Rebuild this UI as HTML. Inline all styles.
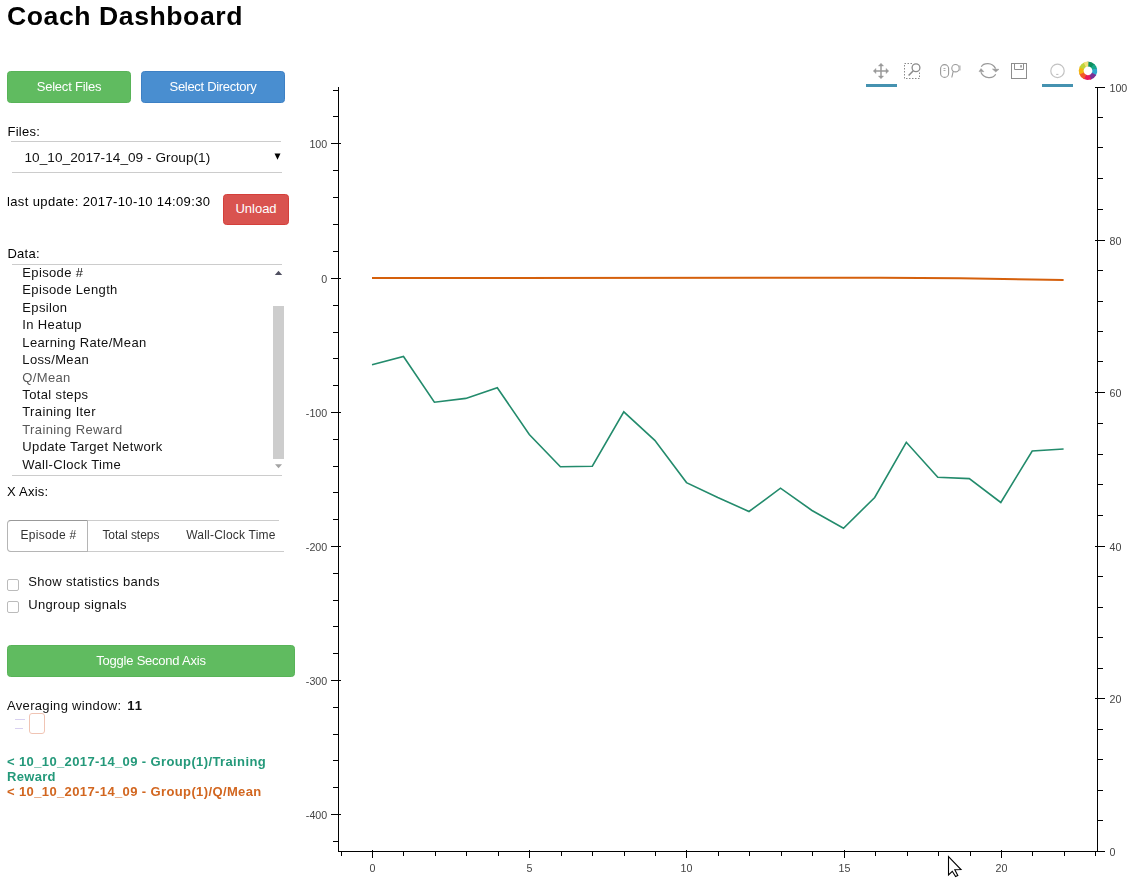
<!DOCTYPE html><html><head><meta charset="utf-8"><style>
html,body{margin:0;padding:0;background:#fff;width:1142px;height:881px;overflow:hidden;font-family:"Liberation Sans", sans-serif;}
#root{position:absolute;left:0;top:0;width:1142px;height:881px;opacity:0.999;}
.btn{position:absolute;border-radius:3.5px;color:#fff;font-size:12px;text-align:center;box-sizing:border-box;}
</style></head><body><div id="root">
<div style="position:absolute;left:7.0px;top:0.98px;font-size:26.6px;line-height:30px;color:#000;font-weight:bold;letter-spacing:0.56px;white-space:nowrap;">Coach Dashboard</div>
<div class="btn" style="left:7px;top:71px;width:124px;height:32px;background:#60bb60;border:1px solid #58b358;"></div><div style="position:absolute;left:7px;top:78.60px;font-size:13px;line-height:15px;color:#fff;font-weight:normal;letter-spacing:-0.22px;white-space:nowrap;width:124px;text-align:center;">Select Files</div>
<div class="btn" style="left:141px;top:71px;width:144px;height:32px;background:#498ed0;border:1px solid #3d80c4;"></div><div style="position:absolute;left:141px;top:78.60px;font-size:13px;line-height:15px;color:#fff;font-weight:normal;letter-spacing:-0.3px;white-space:nowrap;width:144px;text-align:center;">Select Directory</div>
<div style="position:absolute;left:7.4px;top:123.80px;font-size:13px;line-height:15px;color:#000;font-weight:normal;letter-spacing:0.3px;white-space:nowrap;">Files:</div>
<div style="position:absolute;left:11px;top:141px;width:270px;height:1px;background:#ccc"></div>
<div style="position:absolute;left:12px;top:172px;width:270px;height:1px;background:#ccc"></div>
<div style="position:absolute;left:24.5px;top:149.79px;font-size:13.6px;line-height:16px;color:#111;font-weight:normal;letter-spacing:0.05px;white-space:nowrap;">10_10_2017-14_09 - Group(1)</div>
<svg style="position:absolute;left:0;top:0" width="300" height="200"><path d="M274.5 153.5 L280.5 153.5 L277.5 159.8 Z" fill="#000"/></svg>
<div style="position:absolute;left:7px;top:194.00px;font-size:13px;line-height:15px;color:#000;font-weight:normal;letter-spacing:0.37px;white-space:nowrap;">last update: 2017-10-10 14:09:30</div>
<div class="btn" style="left:223px;top:194px;width:66px;height:31px;background:#d9534f;border:1px solid #d43f3a;"></div><div style="position:absolute;left:223px;top:200.80px;font-size:13px;line-height:15px;color:#fff;font-weight:normal;letter-spacing:0px;white-space:nowrap;width:66px;text-align:center;">Unload</div>
<div style="position:absolute;left:7.4px;top:245.70px;font-size:13px;line-height:15px;color:#000;font-weight:normal;letter-spacing:0.3px;white-space:nowrap;">Data:</div>
<div style="position:absolute;left:12px;top:264px;width:270px;height:1px;background:#ccc"></div>
<div style="position:absolute;left:12px;top:475px;width:270px;height:1px;background:#ccc"></div>
<div style="position:absolute;left:22.3px;top:263.80px;font-size:13px;line-height:17px;color:#111;font-weight:normal;letter-spacing:0.36px;white-space:nowrap;">Episode #</div>
<div style="position:absolute;left:22.3px;top:281.26px;font-size:13px;line-height:17px;color:#111;font-weight:normal;letter-spacing:0.36px;white-space:nowrap;">Episode Length</div>
<div style="position:absolute;left:22.3px;top:298.72px;font-size:13px;line-height:17px;color:#111;font-weight:normal;letter-spacing:0.36px;white-space:nowrap;">Epsilon</div>
<div style="position:absolute;left:22.3px;top:316.18px;font-size:13px;line-height:17px;color:#111;font-weight:normal;letter-spacing:0.36px;white-space:nowrap;">In Heatup</div>
<div style="position:absolute;left:22.3px;top:333.64px;font-size:13px;line-height:17px;color:#111;font-weight:normal;letter-spacing:0.36px;white-space:nowrap;">Learning Rate/Mean</div>
<div style="position:absolute;left:22.3px;top:351.10px;font-size:13px;line-height:17px;color:#111;font-weight:normal;letter-spacing:0.36px;white-space:nowrap;">Loss/Mean</div>
<div style="position:absolute;left:22.3px;top:368.56px;font-size:13px;line-height:17px;color:#585858;font-weight:normal;letter-spacing:0.36px;white-space:nowrap;">Q/Mean</div>
<div style="position:absolute;left:22.3px;top:386.02px;font-size:13px;line-height:17px;color:#111;font-weight:normal;letter-spacing:0.36px;white-space:nowrap;">Total steps</div>
<div style="position:absolute;left:22.3px;top:403.48px;font-size:13px;line-height:17px;color:#111;font-weight:normal;letter-spacing:0.36px;white-space:nowrap;">Training Iter</div>
<div style="position:absolute;left:22.3px;top:420.94px;font-size:13px;line-height:17px;color:#585858;font-weight:normal;letter-spacing:0.36px;white-space:nowrap;">Training Reward</div>
<div style="position:absolute;left:22.3px;top:438.40px;font-size:13px;line-height:17px;color:#111;font-weight:normal;letter-spacing:0.36px;white-space:nowrap;">Update Target Network</div>
<div style="position:absolute;left:22.3px;top:455.86px;font-size:13px;line-height:17px;color:#111;font-weight:normal;letter-spacing:0.36px;white-space:nowrap;">Wall-Clock Time</div>
<div style="position:absolute;left:273px;top:306px;width:11px;height:153px;background:#cdcdcd"></div>
<svg style="position:absolute;left:0;top:0" width="300" height="480"><path d="M274.8 275 L282.2 275 L278.5 270.8 Z" fill="#505060"/><path d="M275 464.2 L282 464.2 L278.5 468.3 Z" fill="#a3a3a3"/></svg>
<div style="position:absolute;left:7px;top:484.00px;font-size:13px;line-height:15px;color:#000;font-weight:normal;letter-spacing:0.25px;white-space:nowrap;">X Axis:</div>
<div style="position:absolute;left:7px;top:520px;width:277px;height:32px;overflow:hidden;">
<div style="position:absolute;left:0;top:0;width:330px;height:30px;border:1px solid #ccc;border-radius:4px;box-sizing:content-box"></div>
<div style="position:absolute;left:0;top:0;width:79px;height:30px;border:1px solid #b5b5b5;border-top-color:#999;border-radius:4px 0 0 4px;background:#fff;"></div>
<div style="position:absolute;left:272px;top:0;width:10px;height:1px;background:#fff"></div>
</div>
<div style="position:absolute;left:20.4px;top:528.44px;font-size:12px;line-height:14px;color:#333;font-weight:normal;letter-spacing:0.3px;white-space:nowrap;">Episode #</div>
<div style="position:absolute;left:102.4px;top:528.44px;font-size:12px;line-height:14px;color:#333;font-weight:normal;letter-spacing:-0.03px;white-space:nowrap;">Total steps</div>
<div style="position:absolute;left:186.2px;top:528.44px;font-size:12px;line-height:14px;color:#333;font-weight:normal;letter-spacing:0.22px;white-space:nowrap;">Wall-Clock Time</div>
<div style="position:absolute;left:7px;top:579px;width:12px;height:12px;box-sizing:border-box;border:1px solid #bbb;border-radius:2px;background:#fff"></div>
<div style="position:absolute;left:7px;top:601px;width:12px;height:12px;box-sizing:border-box;border:1px solid #bbb;border-radius:2px;background:#fff"></div>
<div style="position:absolute;left:28.2px;top:573.90px;font-size:13px;line-height:15px;color:#111;font-weight:normal;letter-spacing:0.32px;white-space:nowrap;">Show statistics bands</div>
<div style="position:absolute;left:28.2px;top:596.70px;font-size:13px;line-height:15px;color:#111;font-weight:normal;letter-spacing:0.32px;white-space:nowrap;">Ungroup signals</div>
<div class="btn" style="left:7px;top:645px;width:288px;height:32px;background:#60bb60;border:1px solid #58b358;"></div><div style="position:absolute;left:7px;top:653.00px;font-size:13px;line-height:15px;color:#fff;font-weight:normal;letter-spacing:-0.23px;white-space:nowrap;width:288px;text-align:center;">Toggle Second Axis</div>
<div style="position:absolute;left:7px;top:697.90px;font-size:13px;line-height:15px;color:#111;font-weight:normal;letter-spacing:0.32px;white-space:nowrap;">Averaging window: <b style="margin-left:2px;letter-spacing:1px">11</b></div>
<div style="position:absolute;left:15px;top:719px;width:10px;height:1px;background:#d8d0f0"></div>
<div style="position:absolute;left:15px;top:728px;width:8px;height:1px;background:#d8d0f0"></div>
<div style="position:absolute;left:29px;top:713px;width:16px;height:21px;box-sizing:border-box;border:1.5px solid #f0c4b4;border-radius:3px;background:#fff"></div>
<div style="position:absolute;left:7px;top:754.00px;font-size:13px;line-height:15px;color:#24997a;font-weight:bold;letter-spacing:0.38px;white-space:nowrap;">&lt; 10_10_2017-14_09 - Group(1)/Training</div>
<div style="position:absolute;left:7px;top:769.00px;font-size:13px;line-height:15px;color:#24997a;font-weight:bold;letter-spacing:0.3px;white-space:nowrap;">Reward</div>
<div style="position:absolute;left:7px;top:784.00px;font-size:13px;line-height:15px;color:#d2661f;font-weight:bold;letter-spacing:0.38px;white-space:nowrap;">&lt; 10_10_2017-14_09 - Group(1)/Q/Mean</div>
<svg style="position:absolute;left:0;top:0" width="1142" height="881" shape-rendering="crispEdges"><path d="M338.5 87 V852 M1097.5 87 V852 M338 851.5 H1098" stroke="#000" stroke-width="1" fill="none"/><path d="M333 90.5 H338 M333 116.5 H338 M331 143.5 H341 M333 170.5 H338 M333 197.5 H338 M333 224.5 H338 M333 251.5 H338 M331 278.5 H341 M333 305.5 H338 M333 332.5 H338 M333 358.5 H338 M333 385.5 H338 M331 412.5 H341 M333 439.5 H338 M333 466.5 H338 M333 492.5 H338 M333 519.5 H338 M331 546.5 H341 M333 573.5 H338 M333 600.5 H338 M333 626.5 H338 M333 653.5 H338 M331 680.5 H341 M333 707.5 H338 M333 734.5 H338 M333 760.5 H338 M333 787.5 H338 M331 814.5 H341 M333 841.5 H338 M1095 851.5 H1105 M1098 820.5 H1103 M1098 790.5 H1103 M1098 759.5 H1103 M1098 729.5 H1103 M1095 698.5 H1105 M1098 668.5 H1103 M1098 637.5 H1103 M1098 607.5 H1103 M1098 576.5 H1103 M1095 546.5 H1105 M1098 515.5 H1103 M1098 484.5 H1103 M1098 454.5 H1103 M1098 423.5 H1103 M1095 392.5 H1105 M1098 361.5 H1103 M1098 331.5 H1103 M1098 301.5 H1103 M1098 270.5 H1103 M1095 240.5 H1105 M1098 209.5 H1103 M1098 178.5 H1103 M1098 147.5 H1103 M1098 117.5 H1103 M1095 87.5 H1105 M341.5 852 V856 M372.5 850 V858 M403.5 852 V856 M435.5 852 V856 M466.5 852 V856 M498.5 852 V856 M529.5 850 V858 M561.5 852 V856 M592.5 852 V856 M624.5 852 V856 M655.5 852 V856 M686.5 850 V858 M718.5 852 V856 M749.5 852 V856 M781.5 852 V856 M812.5 852 V856 M844.5 850 V858 M875.5 852 V856 M907.5 852 V856 M938.5 852 V856 M970.5 852 V856 M1001.5 850 V858 M1032.5 852 V856 M1064.5 852 V856 M1095.5 852 V856" stroke="#000" stroke-width="1" fill="none"/></svg>
<svg style="position:absolute;left:0;top:0" width="1142" height="881" font-family='"Liberation Sans", sans-serif' font-size="10.67" fill="#444"><text x="327.2" y="147.9" text-anchor="end">100</text><text x="327.2" y="282.9" text-anchor="end">0</text><text x="327.2" y="416.9" text-anchor="end">-100</text><text x="327.2" y="550.9" text-anchor="end">-200</text><text x="327.2" y="684.9" text-anchor="end">-300</text><text x="327.2" y="818.9" text-anchor="end">-400</text><text x="1109.5" y="91.9" text-anchor="start">100</text><text x="1109.5" y="244.9" text-anchor="start">80</text><text x="1109.5" y="396.9" text-anchor="start">60</text><text x="1109.5" y="550.9" text-anchor="start">40</text><text x="1109.5" y="702.9" text-anchor="start">20</text><text x="1109.5" y="855.9" text-anchor="start">0</text><text x="372.5" y="871.8" text-anchor="middle">0</text><text x="529.5" y="871.8" text-anchor="middle">5</text><text x="686.5" y="871.8" text-anchor="middle">10</text><text x="844.5" y="871.8" text-anchor="middle">15</text><text x="1001.5" y="871.8" text-anchor="middle">20</text></svg>
<svg style="position:absolute;left:0;top:0" width="1142" height="881"><polyline points="372,278 880,277.8 960,278.3 1063.6,279.9" fill="none" stroke="#d5600c" stroke-width="2"/><polyline points="372,364.8 403.5,356.5 434.4,402.2 465.8,398.4 497.3,387.7 529.3,434.5 560.4,466.8 592.3,466.2 623.8,411.8 654.8,440.3 686.5,482.6 717.8,497.5 749,511.5 780.5,488.2 812,510.5 843.5,528.2 874.7,497.5 906.3,442.3 937.8,477.2 969.3,478.6 1000.8,502.5 1032.2,451 1063.6,449" fill="none" stroke="#238b6c" stroke-width="1.6" stroke-linejoin="miter"/></svg>
<svg style="position:absolute;left:0;top:0" width="1142" height="100">
<rect x="866" y="84" width="31" height="3" fill="#4592b0"/>
<rect x="1042" y="84" width="31" height="3" fill="#4592b0"/>
<g stroke="#9a9a9a" stroke-width="1.5" fill="#9a9a9a">
 <path d="M875 71 H887 M881 65 V77" fill="none"/>
 <path d="M873.2 71 L876 68.4 V73.6 Z M888.8 71 L886 68.4 V73.6 Z M881 63.2 L878.4 66 H883.6 Z M881 78.8 L878.4 76 H883.6 Z" stroke-width="0.4"/>
</g>
<g stroke="#8a8a8a" fill="none">
 <rect x="904.5" y="63.5" width="15" height="15" stroke-dasharray="1.5 1.5" stroke-width="1"/>
 <rect x="912" y="63" width="9" height="9" fill="#fff" stroke="none"/>
 <circle cx="916" cy="67.8" r="3.9" stroke-width="1.3"/>
 <path d="M913.3 70.8 L908.6 75.6" stroke-width="1.5"/>
</g>
<g stroke="#9a9a9a" fill="none" stroke-width="1.1">
 <rect x="940.6" y="64.6" width="8" height="12.8" rx="4"/>
 <path d="M943.5 68.5 H945.5 M943.5 70.5 H945.5" stroke-width="0.8"/>
 <circle cx="955.5" cy="68.2" r="3.7"/>
 <path d="M953.2 71.3 L951.8 77.5"/>
 <rect x="959" y="65.5" width="1.6" height="5" fill="#bbb" stroke="none"/>
</g>
<g stroke="#9a9a9a" fill="none" stroke-width="1.25">
 <path d="M981.3 66.8 C983.5 62.8 992.2 61.8 995.6 68.6"/>
 <path d="M995.7 74.3 C993.2 78.8 984 79.2 980.9 72.2"/>
 <path d="M992.4 69 L999 69.3 L995.8 72 Z" fill="#9a9a9a" stroke-width="0.5"/>
 <path d="M979 71.6 L983.9 71.7 L981 68.6 Z" fill="#9a9a9a" stroke-width="0.5"/>
</g>
<g stroke="#8e8e8e" fill="none" stroke-width="1">
 <rect x="1011.5" y="63.5" width="15" height="15"/>
 <path d="M1014.5 64 V69.5 H1023.5 V64"/>
 <rect x="1020.3" y="65.1" width="1.5" height="2.4" fill="#8e8e8e" stroke="none"/>
</g>
<circle cx="1057.5" cy="70.9" r="6.7" fill="none" stroke="#c2c2c2" stroke-width="1.2"/>
<path d="M1056.2 74.4 H1058.4" stroke="#aaa" stroke-width="0.8"/>
</svg>
<svg style="position:absolute;left:1076px;top:59px" width="24" height="24" viewBox="-12 -11.8 24 24"><path d="M-0.49 -9.29 L3.56 -8.59 L6.91 -6.22 L3.27 -2.94 L1.68 -4.07 L-0.23 -4.39 Z" fill="#0e8f5f"/><path d="M6.22 -6.91 L8.17 -4.44 L9.19 -1.45 L4.35 -0.69 L3.87 -2.10 L2.94 -3.27 Z" fill="#17a88a"/><path d="M8.98 -2.41 L9.19 1.45 L7.80 5.07 L3.69 2.40 L4.35 0.69 L4.25 -1.14 Z" fill="#2ea6cf"/><path d="M8.29 4.22 L5.85 7.23 L2.41 8.98 L1.14 4.25 L2.77 3.42 L3.92 2.00 Z" fill="#7a2f95"/><path d="M3.33 8.68 L-0.81 9.26 L-4.79 7.97 L-2.27 3.77 L-0.38 4.38 L1.58 4.11 Z" fill="#e5195a"/><path d="M-3.93 8.43 L-7.02 6.10 L-8.89 2.72 L-4.21 1.29 L-3.32 2.89 L-1.86 3.99 Z" fill="#f2582a"/><path d="M-8.56 3.63 L-9.29 -0.41 L-8.21 -4.37 L-3.88 -2.07 L-4.40 -0.19 L-4.05 1.72 Z" fill="#f2b50f"/><path d="M-8.62 -3.48 L-6.58 -6.58 L-3.48 -8.62 L-1.65 -4.08 L-3.11 -3.11 L-4.08 -1.65 Z" fill="#bfd43a"/><path d="M-4.37 -8.21 L-2.01 -9.08 L0.49 -9.29 L0.23 -4.39 L-0.95 -4.30 L-2.07 -3.88 Z" fill="#f3e27a"/></svg>
<svg style="position:absolute;left:0;top:0" width="1142" height="881"><path d="M948.5 856.5 L948.5 875 L952.3 871.3 L955.6 876.6 L957.8 875.6 L954.8 869.8 L961 869.6 Z" fill="#fff" stroke="#000" stroke-width="1.1" stroke-linejoin="miter"/></svg>
</div></body></html>
